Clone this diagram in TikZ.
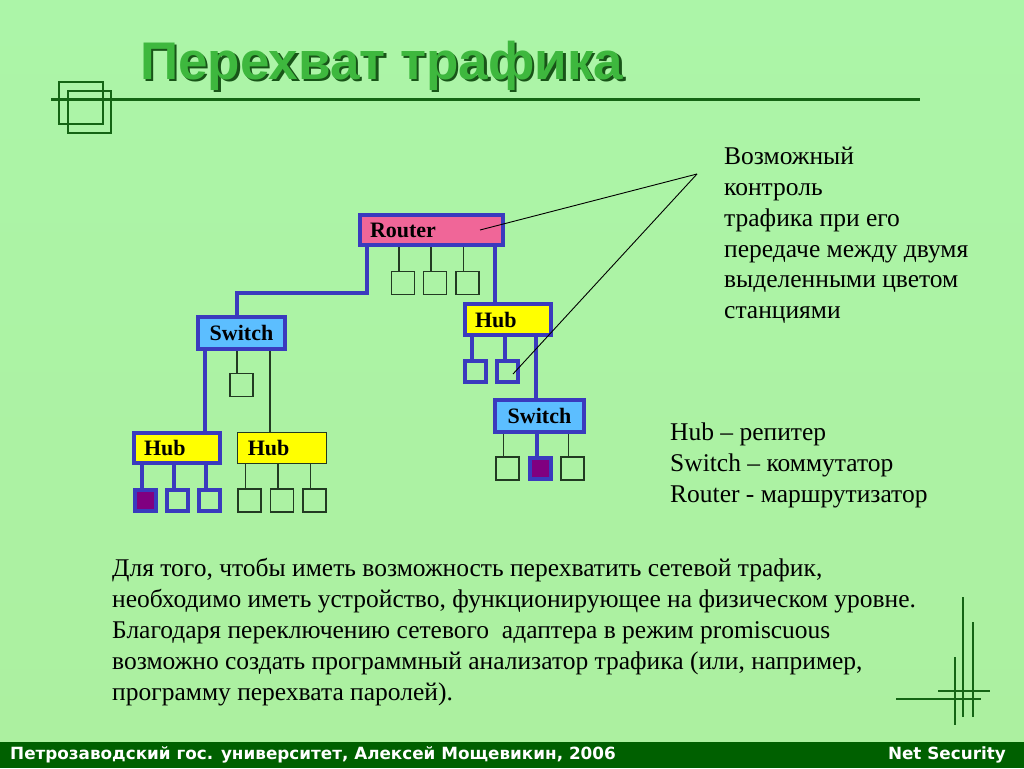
\documentclass[tikz,border=0pt]{standalone}
\usepackage{fontspec}
\setmainfont{Liberation Serif}
\newfontfamily\headfont{Liberation Sans}
\newfontfamily\footfont{DejaVu Sans}
\usepackage{tikz}
\usetikzlibrary{positioning}
\definecolor{NetBlue}{RGB}{58,58,190}
\definecolor{RouterPink}{RGB}{240,102,152}
\definecolor{HubYellow}{RGB}{255,255,0}
\definecolor{SwitchBlue}{RGB}{92,190,255}
\definecolor{StationPurple}{RGB}{128,0,128}
\definecolor{LineGray}{RGB}{34,58,34}
\definecolor{FootGreen}{RGB}{0,96,0}
\definecolor{TitleGreen}{RGB}{62,184,62}
\definecolor{TitleShadow}{RGB}{24,84,24}
\definecolor{DecoGreen}{RGB}{20,100,20}
\definecolor{BgTop}{RGB}{172,245,168}
\definecolor{BgMid}{RGB}{226,252,222}
\definecolor{BgBot}{RGB}{172,240,160}
\newcommand{\shadowtext}[1]{\makebox[0pt][l]{\hspace{2.5pt}\raisebox{-2.5pt}{\color{TitleShadow}#1}}#1}

\begin{document}
\begin{tikzpicture}[x=1pt, y=-1pt,
      dev/.style={draw=NetBlue, line width=4pt, inner xsep=10pt, inner ysep=0pt,
                  font=\fontsize{22}{22}\selectfont\bfseries},
      port/.style={draw=LineGray, line width=1.3pt, minimum size=23pt, inner sep=0pt},
      bport/.style={draw=NetBlue, line width=4pt, minimum size=21pt, inner sep=0pt},
      bus/.style={draw=NetBlue, line width=4pt},
      wire/.style={draw=LineGray, line width=1.3pt},
      callout/.style={draw=black, line width=0.9pt},
      txt/.style={inner sep=0pt, align=left, font=\fontsize{25.5}{30.8}\selectfont}
    ]
    \useasboundingbox (0,0) rectangle (1024,768);
    \shade[top color=BgTop, middle color=BgMid, bottom color=BgBot] (0,0) rectangle (1024,742);
    \fill[FootGreen] (0,742) rectangle (1024,768);

    % title
    \draw[DecoGreen, line width=1.3pt] (59,82) rectangle (103,124);
    \draw[DecoGreen, line width=1.3pt] (68,91) rectangle (111,133);
    \draw[DecoGreen, line width=3pt] (51,99) -- (920,99);
    \node[anchor=west, inner sep=0pt, text=TitleGreen,
          font=\headfont\fontsize{53}{53}\selectfont\bfseries] (title) at (140,67) {\shadowtext{Перехват трафика}};

    % devices
    \node[dev, fill=RouterPink, text width=123pt, align=left, minimum height=30pt] (router) at (431.5,230) {Router};
    \node[dev, fill=HubYellow, text width=66pt, align=left, minimum height=31pt]   (hubA)   at (508,319.5) {Hub};
    \node[dev, fill=SwitchBlue, minimum width=89pt, minimum height=32pt]          (swR)    at (539.5,416) {Switch};
    \node[dev, fill=SwitchBlue, minimum width=87pt, minimum height=32pt]          (swL)    at (241.5,333) {Switch};
    \node[dev, fill=HubYellow, text width=66pt, align=left, minimum height=30pt]   (hubL)   at (177,448) {Hub};
    \node[dev, draw=LineGray, line width=1.3pt, fill=HubYellow, text width=68.5pt,
          align=left, minimum height=30.5pt]                                       (hubM)   at (282,448) {Hub};

    % stations
    \foreach \n/\x in {1/403, 2/435, 3/467.5}
      \node[port] (rp\n) at (\x,283) {};
    \foreach \n/\x in {1/475, 2/507.5}
      \node[bport] (hp\n) at (\x,371) {};
    \node[port]                       (sp1) at (507.5,468.5) {};
    \node[bport, fill=StationPurple]  (sp2) at (540.5,468.5) {};
    \node[port]                       (sp3) at (572.5,468.5) {};
    \node[port]                       (lp)  at (241.5,385) {};
    \node[bport, fill=StationPurple]  (ap1) at (145.5,500) {};
    \node[bport]                      (ap2) at (177.5,500) {};
    \node[bport]                      (ap3) at (209.5,500) {};
    \foreach \n/\x in {1/249.5, 2/282, 3/314.5}
      \node[port] (bp\n) at (\x,500.5) {};

    % links
    \foreach \n in {1,2,3}
      \draw[wire] ([xshift=-4pt]rp\n.north |- router.south) -- ([xshift=-4pt]rp\n.north);
    \draw[bus] ([xshift=-13pt]hubA.north |- router.south) -- ([xshift=-13pt]hubA.north);
    \draw[bus] ([xshift=9pt]router.south west) -- ++(0,46) -| ([xshift=-4.5pt]swL.north);
    \foreach \n in {1,2}
      \draw[bus] ([xshift=-3pt]hp\n.north |- hubA.south) -- ([xshift=-3pt]hp\n.north);
    \draw[bus] ([xshift=-3.5pt]swR.north |- hubA.south) -- ([xshift=-3.5pt]swR.north);
    \draw[wire] ([xshift=-4pt]sp1.north |- swR.south) -- ([xshift=-4pt]sp1.north);
    \draw[bus]  ([xshift=-4pt]sp2.north |- swR.south) -- ([xshift=-4pt]sp2.north);
    \draw[wire] ([xshift=-4pt]sp3.north |- swR.south) -- ([xshift=-4pt]sp3.north);
    \draw[bus]  ([xshift=28pt]hubL.north |- swL.south) -- ([xshift=28pt]hubL.north);
    \draw[wire] ([xshift=-4.5pt]lp.north |- swL.south) -- ([xshift=-4.5pt]lp.north);
    \draw[wire] ([xshift=-12pt]hubM.north |- swL.south) -- ([xshift=-12pt]hubM.north);
    \foreach \n in {1,2,3}{
      \draw[bus]  ([xshift=-4pt]ap\n.north |- hubL.south) -- ([xshift=-4pt]ap\n.north);
      \draw[wire] ([xshift=-4pt]bp\n.north |- hubM.south) -- ([xshift=-4pt]bp\n.north);
    }

    % callout
    \coordinate (tip) at (697,174);
    \draw[callout] (tip) -- ([xshift=-25pt]router.east);
    \draw[callout] (tip) -- ([shift={(5.5,3)}]hp2.center);

    % texts
    \node[txt, anchor=north west] (note) at (724,147)
      {Возможный\\контроль\\трафика при его\\передаче между двумя\\выделенными цветом\\станциями};
    \node[txt, anchor=north west] (legend) at (670,422.5)
      {Hub – репитер\\Switch – коммутатор\\Router - маршрутизатор};
    \node[txt, anchor=north west, font=\fontsize{25.5}{31}\selectfont] (body) at (112,558)
      {Для того, чтобы иметь возможность перехватить сетевой трафик,\\
       необходимо иметь устройство, функционирующее на физическом уровне.\\
       Благодаря переключению сетевого \ адаптера в режим promiscuous\\
       возможно создать программный анализатор трафика (или, например,\\
       программу перехвата паролей).};

    % corner deco
    \draw[DecoGreen, line width=1.2pt] (963,597) -- (963,717);
    \draw[DecoGreen, line width=1.2pt] (973,622) -- (973,717);
    \draw[DecoGreen, line width=1.2pt] (955,657) -- (955,725);
    \draw[DecoGreen, line width=1.2pt] (938,691) -- (990,691);
    \draw[DecoGreen, line width=1.2pt] (896,699) -- (981,699);

    % footer
    \node[anchor=west, inner sep=0pt, text=white, font=\footfont\fontsize{16.8}{16.8}\selectfont\bfseries]
      (foot) at (10,755) {Петрозаводский гос. университет, Алексей Мощевикин, 2006};
    \node[anchor=east, inner sep=0pt, text=white, font=\footfont\fontsize{16.8}{16.8}\selectfont\bfseries]
      (topic) at (1006,755) {Net Security};
  \end{tikzpicture}
\end{document}
